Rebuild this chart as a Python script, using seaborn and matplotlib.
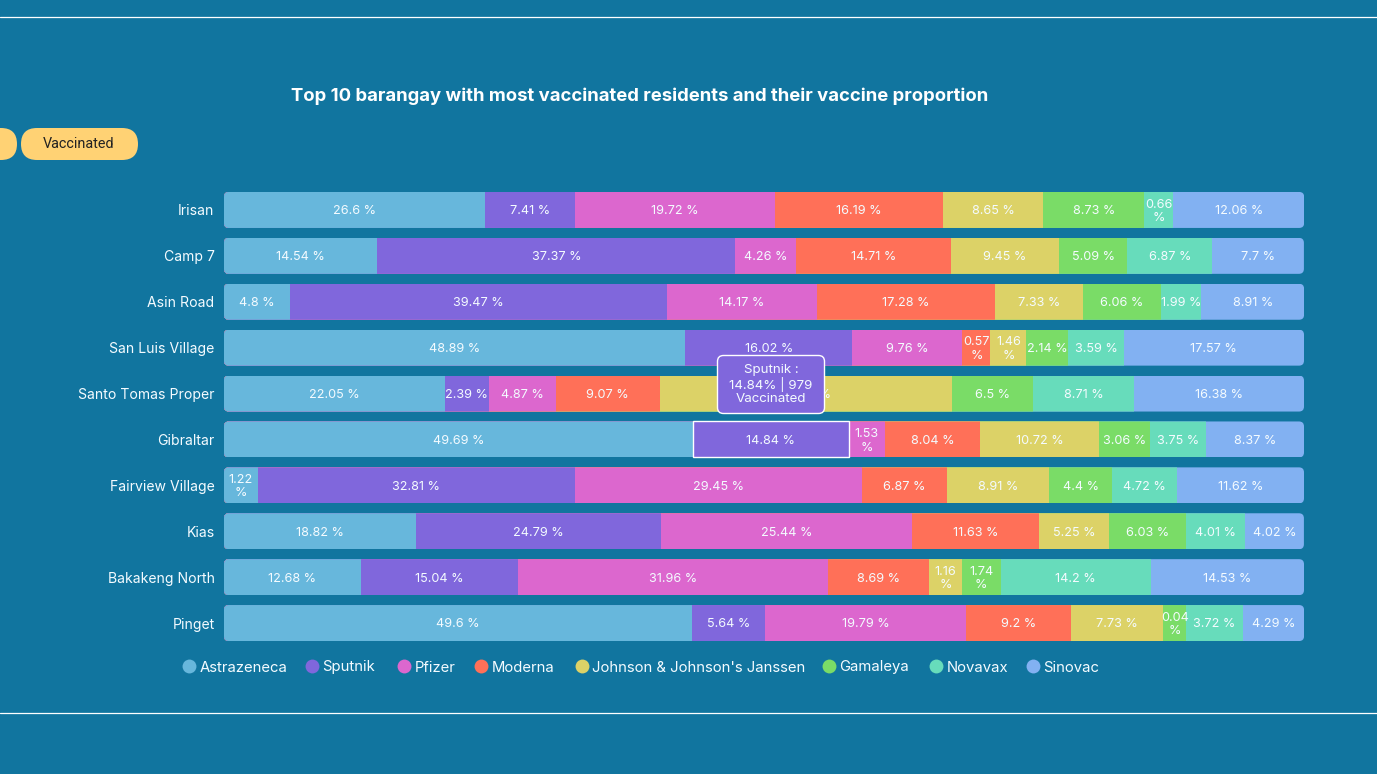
import matplotlib.pyplot as plt
import pandas as pd
import seaborn as sns
from matplotlib.lines import Line2D
from matplotlib.patches import FancyBboxPatch, Rectangle
from matplotlib.transforms import IdentityTransform

BACKGROUND = "#11759f"
TEXT_COLOR = "#f4fbff"
FONT = ["Inter", "DejaVu Sans"]

# each segment gets a fixed padding on top of its share, like the flex layout of the source page
SEGMENT_PADDING = 2.55
ROW_HEIGHT = 0.784

barangays = [
    "Irisan", "Camp 7", "Asin Road", "San Luis Village", "Santo Tomas Proper",
    "Gibraltar", "Fairview Village", "Kias", "Bakakeng North", "Pinget",
]
vaccines = [
    "Astrazeneca", "Sputnik", "Pfizer", "Moderna",
    "Johnson & Johnson's Janssen", "Gamaleya", "Novavax", "Sinovac",
]
colors = ["#67b7dc", "#8067dc", "#dc67ce", "#ff7058", "#dcd267", "#7adc67", "#67dcbb", "#82b1f2"]

astrazeneca = [26.6, 14.54, 4.8, 48.89, 22.05, 49.69, 1.22, 18.82, 12.68, 49.6]
sputnik = [7.41, 37.37, 39.47, 16.02, 2.39, 14.84, 32.81, 24.79, 15.04, 5.64]
pfizer = [19.72, 4.26, 14.17, 9.76, 4.87, 1.53, 29.45, 25.44, 31.96, 19.79]
moderna = [16.19, 14.71, 17.28, 0.57, 9.07, 8.04, 6.87, 11.63, 8.69, 9.2]
janssen = [8.65, 9.45, 7.33, 1.46, 30.03, 10.72, 8.91, 5.25, 1.16, 7.73]
gamaleya = [8.73, 5.09, 6.06, 2.14, 6.5, 3.06, 4.4, 6.03, 1.74, 0.04]
novavax = [0.66, 6.87, 1.99, 3.59, 8.71, 3.75, 4.72, 4.01, 14.2, 3.72]
sinovac = [12.06, 7.7, 8.91, 17.57, 16.38, 8.37, 11.62, 4.02, 14.53, 4.29]

legend_x = [189, 312, 404, 481, 582, 829, 936, 1033]


def build_frames():
    """
    Build the shares per barangay and where each segment ends along the row.
    """
    shares = pd.DataFrame(
        [astrazeneca, sputnik, pfizer, moderna, janssen, gamaleya, novavax, sinovac],
        index=vaccines,
        columns=barangays,
    ).T
    ends = (shares + SEGMENT_PADDING).cumsum(axis=1)
    return shares, ends


def draw_bars(ax, ends):
    """
    Stack the segments by drawing the longest cumulative bar first.
    """
    frame = ends.reset_index(names="barangay")
    for vaccine, color in reversed(list(zip(vaccines, colors))):
        sns.barplot(
            data=frame,
            y="barangay",
            x=vaccine,
            order=barangays,
            color=color,
            saturation=1,
            width=ROW_HEIGHT,
            orient="h",
            edgecolor="none",
            linewidth=0,
            ax=ax,
        )


def round_row_corners(ax, ends):
    """
    Clip every bar of a row to one rounded box.
    """
    fig = ax.figure
    fig.canvas.draw()
    n_series = len(vaccines)
    for row in range(len(barangays)):
        x0, y0 = ax.transData.transform((0, row + ROW_HEIGHT / 2))
        x1, y1 = ax.transData.transform((ends.iloc[row, -1], row - ROW_HEIGHT / 2))
        clip = FancyBboxPatch(
            (x0, y0), x1 - x0, y1 - y0,
            boxstyle="round,pad=0,rounding_size=5",
            transform=IdentityTransform(),
        )
        for series in range(n_series):
            ax.containers[series][row].set_clip_path(clip)


def draw_value_labels(ax, shares, ends):
    """
    Write the share in each segment, wrapped when the segment is narrow.
    """
    for row, barangay in enumerate(barangays):
        start = 0
        for vaccine in vaccines:
            value = shares.loc[barangay, vaccine]
            end = ends.loc[barangay, vaccine]
            label = f"{value:g}\n%" if value < 1.9 else f"{value:g} %"
            text = ax.text(
                (start + end) / 2, row + 0.03, label,
                ha="center", va="center", color=TEXT_COLOR,
                fontsize=9.1, linespacing=1.15, family=FONT,
            )
            text.set_clip_path(
                Rectangle((start, row - ROW_HEIGHT / 2), end - start, ROW_HEIGHT, transform=ax.transData)
            )
            start = end


def draw_page(page, ax, ends):
    """
    Draw the page furniture, legend and tooltip in pixel coordinates.
    """
    page.set_xlim(0, 1377)
    page.set_ylim(774, 0)
    page.axis("off")

    for y in [17, 713]:
        page.add_line(Line2D([0, 1377], [y, y], color="white", lw=0.9))

    page.text(
        640, 96, "Top 10 barangay with most vaccinated residents and their vaccine proportion",
        ha="center", va="center", color="white", fontsize=13.3, fontweight="bold", family=FONT,
    )

    for x, width in [(-90, 107), (21, 117)]:
        page.add_patch(FancyBboxPatch(
            (x, 128), width, 32, boxstyle="round,pad=0,rounding_size=16",
            facecolor="#ffd274", edgecolor="none",
        ))
    page.text(79, 144.5, "Vaccinated", ha="center", va="center", color="#222222", fontsize=10.4, family="Roboto")

    for x, name, color in zip(legend_x, vaccines, colors):
        page.plot([x], [666], marker="o", ms=10, color=color, mew=0)
        page.text(x + 10.5, 667.5, name, ha="left", va="center", color=TEXT_COLOR, fontsize=10.7, family=FONT)

    # highlighted segment of the hovered bar
    x_left, y_top = page.transData.inverted().transform(
        ax.transData.transform((ends.loc["Gibraltar", "Astrazeneca"], 5 - ROW_HEIGHT / 2))
    )
    x_right, y_bottom = page.transData.inverted().transform(
        ax.transData.transform((ends.loc["Gibraltar", "Sputnik"], 5 + ROW_HEIGHT / 2))
    )
    page.add_patch(Rectangle(
        (x_left, y_top), x_right - x_left, y_bottom - y_top,
        facecolor="none", edgecolor="white", lw=1,
    ))

    page.add_patch(FancyBboxPatch(
        (717.5, 355.5), 107, 58, boxstyle="round,pad=0,rounding_size=6",
        facecolor=colors[1], edgecolor="white", lw=1,
    ))
    page.text(
        771, 384.5, "Sputnik :\n14.84% | 979\nVaccinated",
        ha="center", va="center", color=TEXT_COLOR, fontsize=9.6, linespacing=1.1, family=FONT,
    )


if __name__ == "__main__":
    sns.set_theme(style="white")
    plt.rcParams["font.family"] = FONT

    shares, ends = build_frames()

    fig = plt.figure(figsize=(13.77, 7.74), dpi=100, facecolor=BACKGROUND)
    ax = fig.add_axes([224 / 1377, 1 - 646 / 774, 1080 / 1377, 459 / 774])
    ax.set_facecolor("none")

    draw_bars(ax, ends)
    ax.set_xlim(0, 100 + SEGMENT_PADDING * len(vaccines))
    ax.set_ylim(9.5, -0.5)
    ax.set_xlabel("")
    ax.set_ylabel("")
    ax.set_xticks([])
    ax.tick_params(axis="y", length=0, pad=6.8, labelsize=10.1, labelcolor=TEXT_COLOR)
    sns.despine(ax=ax, left=True, bottom=True)

    round_row_corners(ax, ends)
    draw_value_labels(ax, shares, ends)

    page = fig.add_axes([0, 0, 1, 1], facecolor="none", zorder=5)
    draw_page(page, ax, ends)

    fig.savefig("out.png", dpi=100, facecolor=BACKGROUND)
    plt.close(fig)
